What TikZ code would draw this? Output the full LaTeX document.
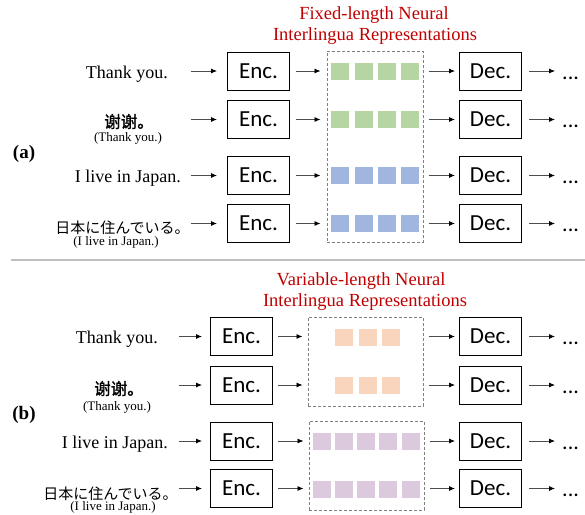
\documentclass[tikz,border=0pt]{standalone}
\usepackage{fontspec}
\setmainfont{Liberation Serif}
\newfontfamily\calibri{Carlito}
\newfontfamily\cjksc[FakeBold=1.2]{Noto Sans CJK SC}
\newfontfamily\cjkjp{Noto Sans CJK JP}
\usetikzlibrary{arrows.meta}
\definecolor{titlered}{RGB}{192,0,0}
\definecolor{sqgreen}{RGB}{181,214,162}
\definecolor{sqblue}{RGB}{160,182,222}
\definecolor{sqpeach}{RGB}{249,213,190}
\definecolor{sqpurple}{RGB}{221,201,222}
\definecolor{sepgray}{RGB}{191,191,191}
\definecolor{dashgray}{RGB}{128,128,128}
\begin{document}
\begin{tikzpicture}[x=1pt,y=-1pt,
 codebox/.style={draw=black, line width=1pt, minimum width=62pt, minimum height=38pt, inner sep=0pt, font=\calibri\fontsize{23}{26}\selectfont},
 repbox/.style={draw=dashgray, line width=1pt, dash pattern=on 3pt off 2pt, inner sep=0pt},
 sq/.style={minimum width=18pt, minimum height=17pt, inner sep=0pt},
 flow/.style={draw=black!70, line width=0.8pt, -{Latex[length=6pt,width=5pt,color=black]}},
 sent/.style={font=\fontsize{18}{20}\selectfont, inner sep=0pt},
 gloss/.style={font=\fontsize{13}{15}\selectfont, inner sep=0pt, anchor=base},
 zh/.style={font=\cjksc\fontsize{16.5}{18}\selectfont, inner sep=0pt},
 ja/.style={font=\cjkjp\fontsize{15}{17}\selectfont, inner sep=0pt},
 ttl/.style={text=titlered, font=\fontsize{18.5}{21}\selectfont, inner sep=0pt, anchor=base},
 dotsnode/.style={font=\calibri\fontsize{22}{26}\selectfont, inner sep=0pt, anchor=west},
 plabel/.style={font=\bfseries\fontsize{19}{21}\selectfont, inner sep=0pt}
]
\path[use as bounding box, fill=white] (0,0) rectangle (585,514);

% ---------- (a) ----------
\node[ttl] (ta1) at (374,19) {Fixed-length Neural};
\node[ttl] (ta2) at (375,40) {Interlingua Representations};

\node[sent, anchor=base east] (sa1) at (168,78) {Thank you.};
\node[zh] (sa2) at (129,121.5) {谢谢。};
\node[gloss] (ga2) at (128,141) {(Thank you.)};
\node[sent, anchor=base east] (sa3) at (181,182) {I live in Japan.};
\node[ja] (sa4) at (122.5,228) {日本に住んでいる。};
\node[gloss] (ga4) at (116,245) {(I live in Japan.)};
\node[plabel] (la) at (24,153.5) {(a)};

\node[repbox, minimum width=96pt, minimum height=191pt] (ra) at (375,146.5) {};

\foreach \r/\y/\c in {1/71/sqgreen, 2/119.5/sqgreen, 3/175.5/sqblue, 4/223.5/sqblue}{
  \node[codebox] (ea\r) at (258.5,\y) {Enc.};
  \node[codebox] (da\r) at (490.5,\y) {Dec.};
  \coordinate (ia\r) at (191,\y);
  \node[dotsnode] (oa\r) at (562,\y+7) {...};
  \foreach \k/\x in {1/340,2/363.5,3/386.5,4/410}{
    \node[sq, fill=\c] (qa\r\k) at (\x,\y) {};
  }
  \draw[flow, shorten >=10pt] (ia\r) -- (ea\r.west);
  \draw[flow, shorten <=6pt, shorten >=6pt] (ea\r.east) -- (ea\r.east -| ra.west);
  \draw[flow, shorten <=5pt, shorten >=4pt] (da\r.west -| ra.east) -- (da\r.west);
  \draw[flow, shorten <=7pt, shorten >=7pt] (da\r.east) -- (da\r.east -| oa\r.west);
}

% separator
\draw[sepgray, line width=2pt] (11,260) -- (585,260);

% ---------- (b) ----------
\node[ttl] (tb1) at (361,285) {Variable-length Neural};
\node[ttl] (tb2) at (365,306) {Interlingua Representations};

\node[sent, anchor=base east] (sb1) at (158,343.5) {Thank you.};
\node[zh] (sb2) at (119,388.5) {谢谢。};
\node[gloss] (gb2) at (117,410) {(Thank you.)};
\node[sent, anchor=base east] (sb3) at (168,448) {I live in Japan.};
\node[ja] (sb4) at (110.5,493.5) {日本に住んでいる。};
\node[gloss] (gb4) at (113,510) {(I live in Japan.)};
\node[plabel] (lb) at (24,415) {(b)};

\node[repbox, minimum width=115pt, minimum height=89pt] (rb1) at (365.5,361.5) {};
\node[repbox, minimum width=115pt, minimum height=89pt] (rb2) at (366.5,465.5) {};

\foreach \r/\y/\b in {1/336.5/rb1, 2/385/rb1, 3/441/rb2, 4/488.5/rb2}{
  \node[codebox] (eb\r) at (241.5,\y) {Enc.};
  \node[codebox] (db\r) at (490.5,\y) {Dec.};
  \coordinate (ib\r) at (179,\y);
  \node[dotsnode] (ob\r) at (562,\y+7) {...};
  \draw[flow, shorten >=8pt] (ib\r) -- (eb\r.west);
  \draw[flow, shorten <=5pt, shorten >=5pt] (eb\r.east) -- (eb\r.east -| \b.west);
  \draw[flow, shorten <=5pt, shorten >=4pt] (db\r.west -| \b.east) -- (db\r.west);
  \draw[flow, shorten <=7pt, shorten >=7pt] (db\r.east) -- (db\r.east -| ob\r.west);
}
\foreach \r/\y in {1/336.5, 2/385}{
  \foreach \k/\x in {1/344,2/368,3/391}{
    \node[sq, fill=sqpeach] (qb\r\k) at (\x,\y+0.5) {};
  }
}
\foreach \r/\y in {3/441, 4/488.5}{
  \foreach \k/\x in {1/322,2/344,3/366,4/388,5/411}{
    \node[sq, fill=sqpurple] (qb\r\k) at (\x,\y+0.5) {};
  }
}
\end{tikzpicture}
\end{document}
